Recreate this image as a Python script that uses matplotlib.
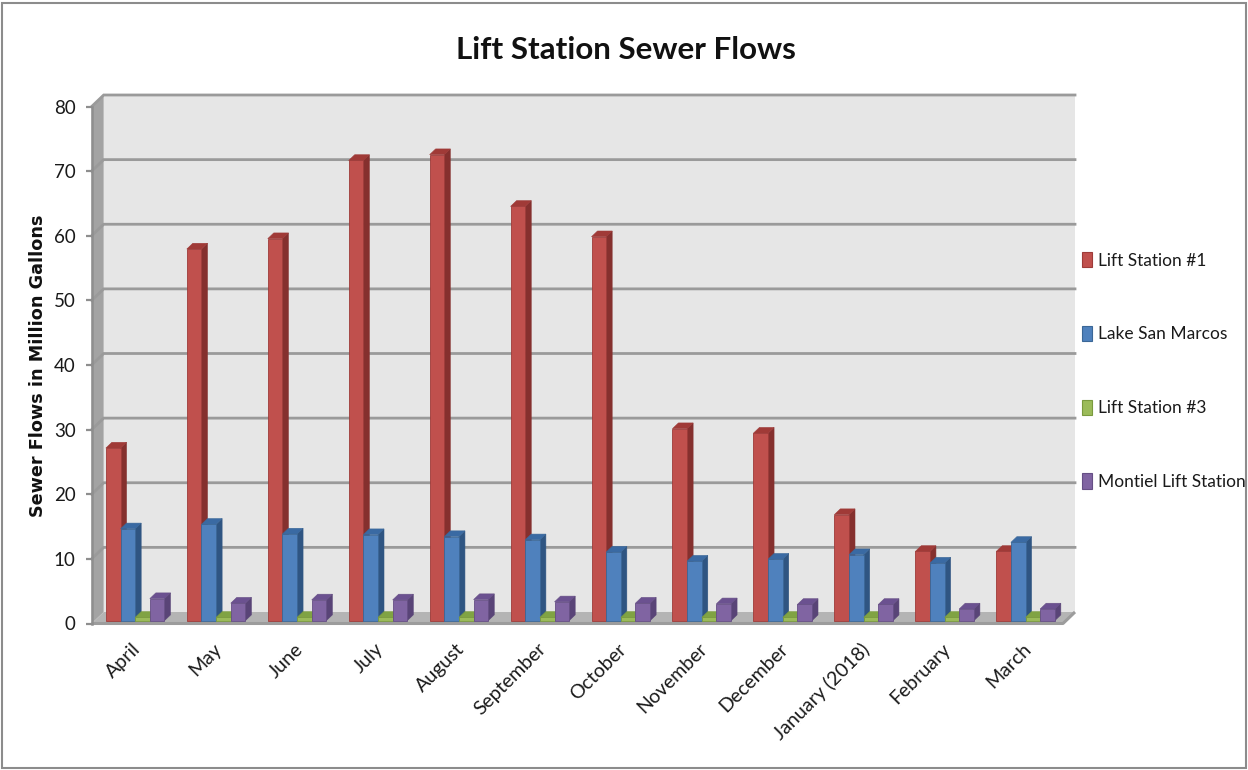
import numpy as np
import matplotlib.pyplot as plt
from matplotlib.patches import Polygon, Rectangle
from matplotlib.transforms import ScaledTranslation

# monthly sewer flows, million gallons
months = ["April", "May", "June", "July", "August", "September", "October",
          "November", "December", "January (2018)", "February", "March"]
stations = ["Lift Station #1", "Lake San Marcos", "Lift Station #3",
            "Montiel Lift Station"]
lift_station_1 = [26.7, 57.5, 59.1, 71.2, 72.1, 64.1, 59.4, 29.7, 29.0, 16.4, 10.7, 10.7]
lake_san_marcos = [14.2, 14.9, 13.4, 13.3, 13.0, 12.5, 10.6, 9.2, 9.5, 10.2, 8.9, 12.1]
lift_station_3 = [0.5, 0.5, 0.5, 0.5, 0.5, 0.5, 0.5, 0.5, 0.5, 0.5, 0.5, 0.5]
montiel = [3.4, 2.7, 3.2, 3.2, 3.25, 2.9, 2.7, 2.6, 2.5, 2.5, 1.8, 1.8]
flows = [lift_station_1, lake_san_marcos, lift_station_3, montiel]

front_col = ["#C0504D", "#4F81BD", "#9BBB59", "#8064A2"]
side_col = ["#85302E", "#2F5582", "#6E8B37", "#594477"]
top_col = ["#A03A37", "#3A6AA3", "#80A343", "#6B5190"]
edge_col = ["#9E3B39", "#3B6797", "#7A9A3E", "#664F85"]

narrow = ["Lato", "DejaVu Sans"]

W, H = 1248, 770
fig = plt.figure(figsize=(W / 100, H / 100), dpi=100)

# front plane of the 3-D box, in pixels
x_left, x_right = 91.7, 1063.0
y_zero, y_top = 623.5, 106.5
ax = fig.add_axes([x_left / W, 1 - y_zero / H, (x_right - x_left) / W, (y_zero - y_top) / H])
ax.set_xlim(0, 12)
ax.set_ylim(0, 80)
ax.patch.set_visible(False)

# depth of the box expressed in data units
px_x = (x_right - x_left) / 12
px_y = (y_zero - y_top) / 80
dx = 12.0 / px_x
dy = 11.5 / px_y

# walls and floor
ax.add_patch(Rectangle((dx, dy), 12, 80, facecolor="#E6E6E6", edgecolor="none",
                       zorder=0, clip_on=False))
ax.add_patch(Polygon([(0, 0), (dx, dy), (dx, 80 + dy), (0, 80)], closed=True,
                     facecolor="#A3A3A3", edgecolor="none", zorder=0.5, clip_on=False))
ax.add_patch(Polygon([(0, 0), (12, 0), (12 + dx, dy), (dx, dy)], closed=True,
                     facecolor="#B4B4B4", edgecolor="none", zorder=0.5, clip_on=False))
ax.plot([0, 12, 12 + dx], [0, 0, dy], color="#9C9C9C", lw=2.2, zorder=0.6,
        clip_on=False, solid_capstyle="butt")

for v in range(10, 81, 10):
    ax.plot([0, dx, 12 + dx], [v, v + dy, v + dy], color="#9A9A9A", lw=2.0,
            zorder=1, clip_on=False, solid_joinstyle="miter")

# 3-D columns: front face via ax.bar, side and top as parallelograms
bw = 0.181
group = 4 * bw
fd, bd = 0.25, 0.75          # front and back depth of the columns
ofx, ofy = fd * dx, fd * dy
ddx, ddy = (bd - fd) * dx, (bd - fd) * dy
xs = np.arange(12)
for k, vals in enumerate(flows):
    lefts = xs + 0.5 - group / 2 + k * bw + ofx
    z = 3 + k
    ax.bar(lefts, vals, width=bw, bottom=ofy, align="edge", color=front_col[k],
           edgecolor=edge_col[k], linewidth=0.6, zorder=z + 0.5, clip_on=False)
    for xl, v in zip(lefts, vals):
        xr = xl + bw
        yt = v + ofy
        ax.add_patch(Polygon([(xr, ofy), (xr, yt), (xr + ddx, yt + ddy), (xr + ddx, ofy + ddy)],
                             closed=True, facecolor=side_col[k], edgecolor=side_col[k],
                             lw=0.4, zorder=z, clip_on=False))
        ax.add_patch(Polygon([(xl, yt), (xr, yt), (xr + ddx, yt + ddy), (xl + ddx, yt + ddy)],
                             closed=True, facecolor=top_col[k], edgecolor=edge_col[k],
                             lw=0.4, zorder=z, clip_on=False))

# axes
for s in ["top", "right", "bottom"]:
    ax.spines[s].set_visible(False)
ax.spines["left"].set_color("#8E8E8E")
ax.spines["left"].set_linewidth(1.8)
ax.spines["left"].set_zorder(2)
ax.set_yticks(range(0, 81, 10))
ax.tick_params(axis="y", length=4.5, width=1.6, color="#8E8E8E", pad=7,
               labelsize=13.5, labelcolor="#1a1a1a")
for lab in ax.get_yticklabels():
    lab.set_family(narrow)

ax.set_xticks(xs + 0.5, months)
ax.tick_params(axis="x", length=0, pad=15, labelsize=14, labelcolor="#1a1a1a")
shift = ScaledTranslation(6 / 100, -2 / 100, fig.dpi_scale_trans)
for lab in ax.get_xticklabels():
    lab.set_family(narrow)
    lab.set_rotation(45)
    lab.set_ha("right")
    lab.set_va("center")
    lab.set_rotation_mode("anchor")
    lab.set_transform(lab.get_transform() + shift)

# legend
handles = [Rectangle((0, 0), 1, 1, facecolor=front_col[k], edgecolor=edge_col[k], lw=0.8)
           for k in range(4)]
leg = fig.legend(handles, stations, loc="center left",
                 bbox_to_anchor=(1075 / W, 1 - 371 / H), frameon=False,
                 handlelength=0.6, handleheight=1.0, handletextpad=0.3,
                 labelspacing=3.29, borderaxespad=0,
                 prop={"family": narrow, "size": 12.5})
for t in leg.get_texts():
    t.set_color("#1a1a1a")

fig.text(626 / W, 1 - 50 / H, "Lift Station Sewer Flows", ha="center", va="center",
         fontsize=22.6, fontweight="bold", family=narrow, color="#111111")
fig.text(38 / W, 1 - 366 / H, "Sewer Flows in Million Gallons", rotation=90,
         ha="center", va="center", fontsize=12.7, fontweight="bold",
         family="DejaVu Sans", color="#111111")

# outer chart border
fig.patches.append(Rectangle((1.5 / W, 2.5 / H), 1244.5 / W, 765 / H, transform=fig.transFigure,
                             fill=False, edgecolor="#8C8C8C", lw=1.5))

fig.savefig("out.png", dpi=100)
